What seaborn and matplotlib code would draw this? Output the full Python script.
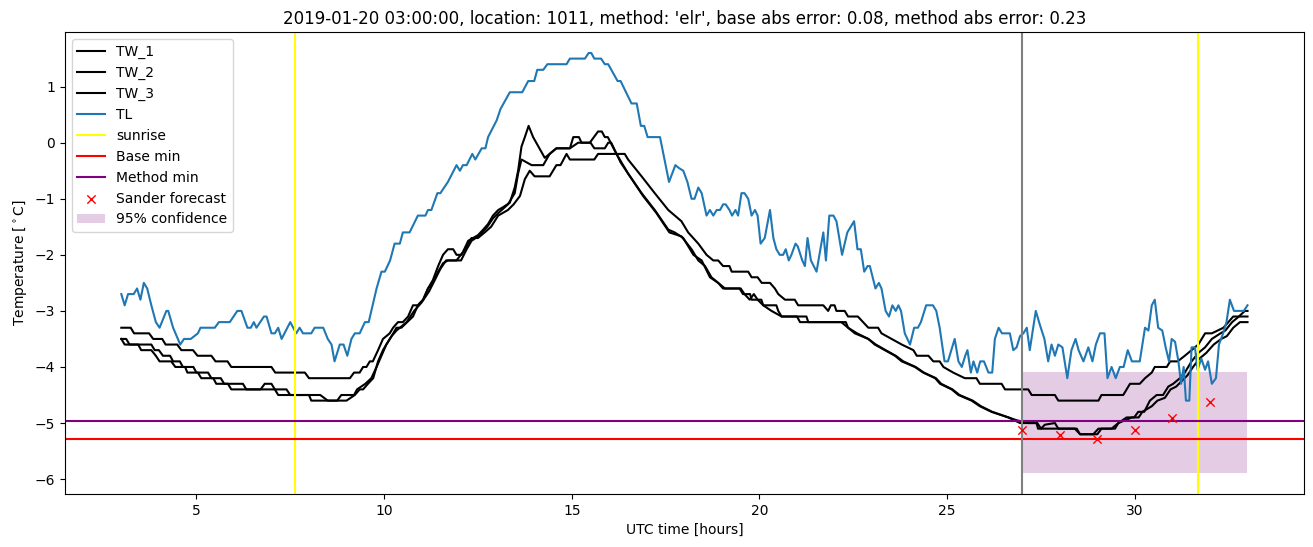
import matplotlib
matplotlib.use("Agg")
import matplotlib.pyplot as plt
import seaborn as sns

# ---------------------------------------------------------------
# Values (hours UTC, degrees C)
# ---------------------------------------------------------------
tw1_hours = [3.0, 3.25, 3.34, 3.74, 3.85, 4.09, 4.18, 4.49, 4.6, 4.91, 5.03, 5.4, 5.51, 5.83, 5.93,
             7.0, 7.1, 7.89, 8.0, 9.09, 9.2, 9.35, 9.44, 9.53, 9.62, 9.7, 9.84, 9.97, 10.06, 10.15,
             10.24, 10.37, 10.5, 10.64, 10.77, 10.9, 11.04, 11.17, 11.3, 11.44, 11.57, 11.7, 11.84,
             11.93, 12.06, 12.33, 12.5, 12.68, 12.85, 13.04, 13.3, 13.45, 13.62, 13.75, 13.88, 14.01,
             14.41, 14.59, 14.7, 14.86, 14.95, 15.6, 15.7, 16.41, 16.5, 16.86, 17.21, 17.57, 17.92,
             18.1, 18.37, 18.59, 18.77, 18.9, 19.03, 19.2, 19.26, 19.7, 19.79, 19.95, 20.06, 20.28,
             20.41, 20.5, 20.68, 20.94, 21.03, 21.7, 21.83, 21.9, 22.0, 22.05, 22.27, 22.36, 22.62,
             22.76, 22.9, 23.16, 23.25, 23.52, 23.79, 24.1, 24.19, 24.5, 24.63, 24.8, 24.9, 25.16,
             25.47, 25.78, 25.87, 26.45, 26.54, 27.16, 27.25, 27.87, 27.96, 29.03, 29.11, 29.69,
             29.87, 30.13, 30.27, 30.45, 30.53, 30.85, 30.94, 31.14, 31.33, 31.51, 31.69, 31.87,
             32.05, 32.36, 32.49, 32.62, 32.85, 33.0]
tw1_temp = [-3.3, -3.3, -3.4, -3.4, -3.5, -3.5, -3.6, -3.6, -3.7, -3.7, -3.8, -3.8, -3.9, -3.9, -4.0,
            -4.0, -4.1, -4.1, -4.2, -4.2, -4.1, -4.1, -4.0, -4.0, -3.9, -3.9, -3.7, -3.5, -3.45, -3.4,
            -3.3, -3.2, -3.2, -3.1, -2.9, -2.9, -2.8, -2.6, -2.45, -2.2, -2.0, -1.9, -1.9,
            -2.0, -2.0, -1.7, -1.7, -1.6, -1.5, -1.3, -1.2, -1.1, -0.95, -0.65, -0.5, -0.6,
            -0.6, -0.4, -0.4, -0.2, -0.3, -0.3, -0.2, -0.2, -0.3, -0.6, -0.9, -1.2, -1.4,
            -1.6, -1.8, -2.0, -2.1, -2.1, -2.2, -2.2, -2.3, -2.3, -2.4, -2.4, -2.5, -2.5,
            -2.6, -2.7, -2.8, -2.8, -2.9, -2.9, -3.0, -2.9, -2.9, -3.0, -3.0, -3.1, -3.1,
            -3.2, -3.3, -3.3, -3.4, -3.5, -3.6, -3.7, -3.8, -3.8, -3.9, -3.9, -4.0, -4.1,
            -4.2, -4.2, -4.3, -4.3, -4.4, -4.4, -4.5, -4.5, -4.6, -4.6, -4.5, -4.5,
            -4.3, -4.3, -4.2, -4.1, -4.0, -4.0, -3.9, -3.9, -3.8, -3.7, -3.6, -3.4,
            -3.4, -3.3, -3.2, -3.1, -3.1, -3.1]

tw2_hours = [3.0, 3.09, 3.45, 3.53, 3.8, 3.92, 4.02, 4.33, 4.44, 4.7, 4.76, 5.04, 5.13, 5.45, 5.53,
             5.84, 5.93, 7.09, 7.18, 8.0, 8.06, 9.0, 9.22, 9.35, 9.44, 9.57, 9.71, 9.84, 9.97, 10.06,
             10.2, 10.33, 10.46, 10.77, 10.9, 11.04, 11.17, 11.3, 11.44, 11.57, 11.7, 11.93, 12.1,
             12.24, 12.37, 12.5, 12.64, 12.77, 12.9, 13.04, 13.17, 13.35, 13.48, 13.57, 13.66, 13.75,
             13.85, 13.97, 14.28, 14.41, 14.59, 14.95, 15.04, 15.19, 15.26, 15.48, 15.7, 15.8, 15.88,
             15.96, 16.19, 16.5, 16.86, 17.21, 17.57, 17.74, 17.97, 18.24, 18.46, 18.68, 18.9, 19.03,
             19.47, 19.56, 19.75, 19.79, 20.05, 20.1, 20.45, 20.5, 20.59, 21.0, 21.08, 22.18, 22.36,
             22.54, 22.9, 23.07, 23.34, 23.61, 23.79, 24.14, 24.36, 24.68, 24.81, 25.12, 25.3, 25.65,
             25.87, 26.18, 26.63, 26.94, 27.38, 27.42, 28.4, 28.54, 28.89, 29.03, 29.38, 29.56,
             29.78, 29.98, 30.09, 30.25, 30.4, 30.58, 30.75, 30.89, 31.02, 31.2, 31.33, 31.51, 31.69,
             31.87, 32.05, 32.28, 32.41, 32.59, 32.77, 32.93, 33.0]
tw2_temp = [-3.5, -3.6, -3.6, -3.7, -3.7, -3.8, -3.9, -3.9, -4.0, -4.0, -4.1, -4.1, -4.2, -4.2, -4.3,
            -4.3, -4.4, -4.4, -4.5, -4.5, -4.6, -4.6, -4.5, -4.4, -4.4, -4.3, -4.2, -3.9, -3.7, -3.6,
            -3.45, -3.3, -3.3, -3.1, -2.9, -2.8, -2.6, -2.5, -2.3, -2.15, -2.1, -2.1, -1.95,
            -1.75, -1.7, -1.65, -1.55, -1.45, -1.3, -1.2, -1.15, -1.07, -0.8, -0.5, -0.07, 0.1,
            0.3, 0.1, -0.27, -0.2, -0.1, -0.1, 0.1, 0.1, 0.0, 0.0, 0.2, 0.2, 0.1,
            0.1, -0.2, -0.55, -0.9, -1.2, -1.55, -1.6, -1.7, -2.0, -2.1, -2.4, -2.5, -2.6,
            -2.6, -2.7, -2.7, -2.8, -2.8, -2.9, -2.9, -3.0, -3.1, -3.1, -3.2, -3.2, -3.3,
            -3.4, -3.5, -3.6, -3.7, -3.8, -3.9, -4.0, -4.1, -4.2, -4.3, -4.4, -4.5, -4.6,
            -4.7, -4.8, -4.9, -5.0, -5.0, -5.1, -5.1, -5.2, -5.2, -5.1, -5.1, -5.0,
            -4.9, -4.9, -4.8, -4.8, -4.6, -4.5, -4.5, -4.35, -4.3, -4.2, -4.1, -3.9, -3.75,
            -3.65, -3.5, -3.4, -3.35, -3.2, -3.1, -3.0, -3.0]

tw3_hours = [3.0, 3.13, 3.22, 3.8, 3.89, 4.0, 4.11, 4.3, 4.38, 4.56, 4.64, 4.92, 5.0, 5.31, 5.4,
             5.65, 5.74, 6.24, 6.33, 6.71, 6.82, 7.0, 7.09, 7.4, 7.5, 8.3, 8.4, 8.5, 8.75, 8.86,
             9.2, 9.28, 9.5, 9.66, 9.8, 9.93, 10.06, 10.2, 10.33, 10.6, 10.8, 11.0, 11.2, 11.35,
             11.5, 11.65, 11.8, 12.05, 12.2, 12.33, 12.55, 12.75, 12.9, 13.05, 13.3, 13.48, 13.57,
             13.66, 13.93, 14.24, 14.41, 14.59, 14.95, 15.17, 15.5, 15.6, 15.88, 15.97, 16.05,
             16.3, 16.6, 16.9, 17.25, 17.6, 17.92, 18.19, 18.37, 18.55, 18.72, 18.9, 19.08, 19.5,
             19.6, 19.74, 19.85, 19.95, 20.1, 20.32, 20.59, 21.25, 21.3, 22.3, 22.36, 22.6, 22.9,
             23.1, 23.36, 23.63, 23.83, 24.16, 24.38, 24.7, 24.84, 25.14, 25.33, 25.68, 25.9, 26.2,
             26.63, 26.85, 27.16, 27.4, 27.5, 27.6, 27.87, 27.96, 28.45, 28.54, 29.0, 29.11, 29.47,
             29.56, 29.74, 29.92, 30.1, 30.2, 30.45, 30.6, 30.8, 30.95, 31.1, 31.25, 31.4, 31.55,
             31.72, 31.9, 32.1, 32.3, 32.45, 32.62, 32.8, 33.0]
tw3_temp = [-3.5, -3.5, -3.6, -3.6, -3.7, -3.7, -3.8, -3.8, -3.9, -3.9, -4.0, -4.0, -4.1, -4.1, -4.2,
            -4.2, -4.3, -4.3, -4.4, -4.4, -4.3, -4.3, -4.4, -4.4, -4.5, -4.5, -4.55, -4.6, -4.6, -4.5,
            -4.5, -4.4, -4.3, -4.2, -4.0, -3.8, -3.6, -3.45, -3.35, -3.2, -3.0, -2.85, -2.65, -2.45,
            -2.25, -2.1, -2.1, -2.1, -1.9, -1.75, -1.65, -1.5, -1.35, -1.25, -1.1, -0.9, -0.55,
            -0.3, -0.4, -0.4, -0.2, -0.1, -0.1, 0.0, 0.0, -0.1, -0.1, 0.0, 0.0,
            -0.35, -0.65, -0.95, -1.25, -1.6, -1.67, -1.9, -2.1, -2.2, -2.4, -2.5, -2.6, -2.6,
            -2.7, -2.8, -2.7, -2.8, -2.9, -3.0, -3.1, -3.1, -3.2, -3.2, -3.3, -3.4, -3.5,
            -3.6, -3.7, -3.8, -3.9, -4.0, -4.1, -4.2, -4.3, -4.4, -4.5, -4.6, -4.7, -4.8,
            -4.9, -4.95, -5.0, -5.0, -5.1, -5.03, -5.0, -5.1, -5.1, -5.2, -5.2, -5.1, -5.1,
            -5.0, -4.95, -4.9, -4.9, -4.8, -4.7, -4.6, -4.55, -4.4, -4.35, -4.25, -4.15, -4.0,
            -3.85, -3.75, -3.6, -3.5, -3.45, -3.3, -3.2, -3.2]

tl_hours = [3.0, 3.09, 3.18, 3.33, 3.42, 3.51, 3.6, 3.69, 3.8, 3.92, 4.02, 4.2, 4.25, 4.38, 4.57,
            4.67, 4.85, 5.04, 5.11, 5.49, 5.6, 5.89, 6.09, 6.2, 6.36, 6.45, 6.53, 6.6, 6.8, 6.87,
            7.0, 7.09, 7.18, 7.27, 7.5, 7.66, 7.75, 7.84, 7.93, 8.06, 8.15, 8.38, 8.5, 8.6, 8.68,
            8.82, 8.92, 9.02, 9.13, 9.22, 9.35, 9.49, 9.59, 9.66, 9.8, 9.93, 10.02, 10.16, 10.28,
            10.42, 10.5, 10.68, 10.9, 11.1, 11.17, 11.26, 11.42, 11.5, 11.7, 11.93, 12.02, 12.1,
            12.2, 12.35, 12.43, 12.6, 12.7, 12.77, 13.0, 13.1, 13.35, 13.68, 13.84, 14.0, 14.08,
            14.24, 14.35, 14.86, 14.95, 15.35, 15.45, 15.52, 15.6, 15.78, 15.88, 15.97, 16.22,
            16.3, 16.59, 16.73, 16.84, 16.93, 17.02, 17.35, 17.59, 17.76, 17.85, 17.97, 18.08,
            18.19, 18.27, 18.37, 18.46, 18.59, 18.68, 18.77, 18.86, 18.95, 19.03, 19.1, 19.2,
            19.27, 19.36, 19.43, 19.52, 19.6, 19.7, 19.79, 19.88, 19.95, 20.03, 20.14, 20.28,
            20.37, 20.45, 20.54, 20.63, 20.7, 20.78, 20.85, 20.96, 21.02, 21.14, 21.21, 21.28,
            21.37, 21.52, 21.7, 21.77, 21.86, 21.97, 22.05, 22.2, 22.34, 22.52, 22.61, 22.7,
            22.79, 22.88, 22.94, 23.09, 23.18, 23.25, 23.36, 23.45, 23.54, 23.63, 23.7, 23.77,
            23.87, 24.01, 24.12, 24.22, 24.3, 24.44, 24.62, 24.71, 24.8, 24.93, 25.02, 25.2, 25.3,
            25.39, 25.48, 25.54, 25.63, 25.7, 25.8, 25.88, 25.98, 26.1, 26.2, 26.27, 26.37, 26.46,
            26.67, 26.76, 26.85, 26.94, 27.03, 27.12, 27.2, 27.36, 27.47, 27.59, 27.69, 27.78,
            27.87, 27.96, 28.07, 28.2, 28.31, 28.42, 28.5, 28.63, 28.76, 28.87, 28.96, 29.07,
            29.19, 29.27, 29.38, 29.49, 29.6, 29.7, 29.81, 29.92, 30.13, 30.27, 30.36, 30.45,
            30.53, 30.62, 30.73, 30.82, 30.91, 30.98, 31.07, 31.16, 31.23, 31.3, 31.36, 31.45,
            31.51, 31.6, 31.67, 31.77, 31.87, 31.95, 32.05, 32.16, 32.24, 32.35, 32.44, 32.53,
            32.64, 32.9, 33.0]
tl_temp = [-2.7, -2.9, -2.7, -2.7, -2.6, -2.8, -2.5, -2.6, -2.9, -3.2, -3.3, -3.0, -3.0, -3.3, -3.6,
           -3.5, -3.5, -3.4, -3.3, -3.3, -3.2, -3.2, -3.0, -3.0, -3.3, -3.3, -3.2, -3.3, -3.1, -3.1,
           -3.4, -3.4, -3.3, -3.5, -3.2, -3.4, -3.3, -3.4, -3.4, -3.4, -3.3, -3.3, -3.5, -3.6, -3.9,
           -3.6, -3.6, -3.8, -3.5, -3.4, -3.4, -3.2, -3.2, -3.0, -2.6, -2.3, -2.3, -2.1, -1.8,
           -1.8, -1.6, -1.6, -1.3, -1.3, -1.2, -1.2, -0.9, -0.9, -0.7, -0.4, -0.5, -0.4,
           -0.4, -0.2, -0.3, -0.1, -0.1, 0.1, 0.4, 0.6, 0.9, 0.9, 1.1, 1.1, 1.3,
           1.3, 1.4, 1.4, 1.5, 1.5, 1.6, 1.6, 1.5, 1.5, 1.4, 1.4, 1.1,
           1.1, 0.7, 0.7, 0.3, 0.3, 0.1, 0.1, -0.7, -0.4, -0.45, -0.5, -0.7,
           -1.0, -1.0, -0.8, -0.9, -1.3, -1.2, -1.3, -1.2, -1.2, -1.1, -1.1, -1.2,
           -1.3, -1.2, -1.3, -0.9, -0.9, -1.0, -1.3, -1.2, -1.3, -1.8, -1.7, -1.2,
           -1.7, -1.9, -2.0, -2.0, -1.9, -2.1, -2.0, -1.8, -1.85, -2.1, -2.2, -1.7,
           -2.1, -2.3, -1.6, -2.1, -1.3, -1.3, -1.4, -2.0, -1.6, -1.4, -1.9, -1.9,
           -2.3, -2.2, -2.2, -2.6, -2.5, -2.6, -3.0, -3.1, -2.9, -3.0, -2.9, -3.0,
           -3.4, -3.6, -3.3, -3.3, -3.2, -2.9, -2.9, -3.0, -3.3, -3.9, -3.9, -3.5, -3.9,
           -4.0, -3.8, -3.7, -4.1, -3.9, -4.1, -3.9, -3.9, -4.1, -4.1, -3.5, -3.3, -3.4,
           -3.4, -3.7, -3.65, -3.45, -3.4, -3.3, -3.7, -3.0, -3.25, -3.5, -3.9, -3.6,
           -3.8, -3.6, -3.65, -4.2, -3.7, -3.5, -3.7, -3.9, -3.65, -3.9, -3.6, -3.4,
           -3.4, -4.2, -4.0, -4.2, -4.0, -4.0, -3.7, -3.9, -3.9, -3.3, -3.35, -2.9,
           -2.8, -3.3, -3.35, -3.65, -3.9, -3.5, -3.55, -3.9, -4.3, -4.0, -4.6, -4.6,
           -3.65, -3.65, -4.05, -3.85, -4.05, -3.9, -4.3, -4.2, -3.6, -3.4, -3.2, -2.8,
           -3.0, -3.0, -2.9]

sunrise_hours = [7.64, 31.67]
forecast_start = 27.0
base_min = -5.28
method_min = -4.97
sander_hours = [27, 28, 29, 30, 31, 32]
sander_temp = [-5.12, -5.22, -5.29, -5.13, -4.91, -4.62]
conf_hours = [27, 33]
conf_low = -5.89
conf_high = -4.09

title = ("2019-01-20 03:00:00, location: 1011, method: 'elr', "
         "base abs error: 0.08, method abs error: 0.23")

# ---------------------------------------------------------------
# Plot
# ---------------------------------------------------------------
fig, ax = plt.subplots(figsize=(13.13, 5.47), dpi=100)
fig.subplots_adjust(left=0.0495, right=0.993, top=0.9415, bottom=0.097)

sns.lineplot(x=tw1_hours, y=tw1_temp, color="black", label="TW_1", ax=ax,
             estimator=None, sort=False)
sns.lineplot(x=tw2_hours, y=tw2_temp, color="black", label="TW_2", ax=ax,
             estimator=None, sort=False)
sns.lineplot(x=tw3_hours, y=tw3_temp, color="black", label="TW_3", ax=ax,
             estimator=None, sort=False)
sns.lineplot(x=tl_hours, y=tl_temp, color="#1f77b4", label="TL", ax=ax,
             estimator=None, sort=False)

ax.axvline(sunrise_hours[0], color="yellow", label="sunrise")
ax.axvline(sunrise_hours[1], color="yellow")
ax.axhline(base_min, color="red", label="Base min")
ax.axhline(method_min, color="purple", label="Method min")
ax.axvline(forecast_start, color="gray")

sns.scatterplot(x=sander_hours, y=sander_temp, marker="x", color="red", s=36,
                linewidth=1, label="Sander forecast", ax=ax, zorder=3)
ax.fill_between(conf_hours, conf_low, conf_high, color="purple", alpha=0.2,
                linewidth=0, label="95% confidence")

ax.set_title(title)
ax.set_xlabel("UTC time [hours]")
ax.set_ylabel(r"Temperature [$^\circ$C]")
ax.legend(loc="upper left")

plt.savefig("out.png")
